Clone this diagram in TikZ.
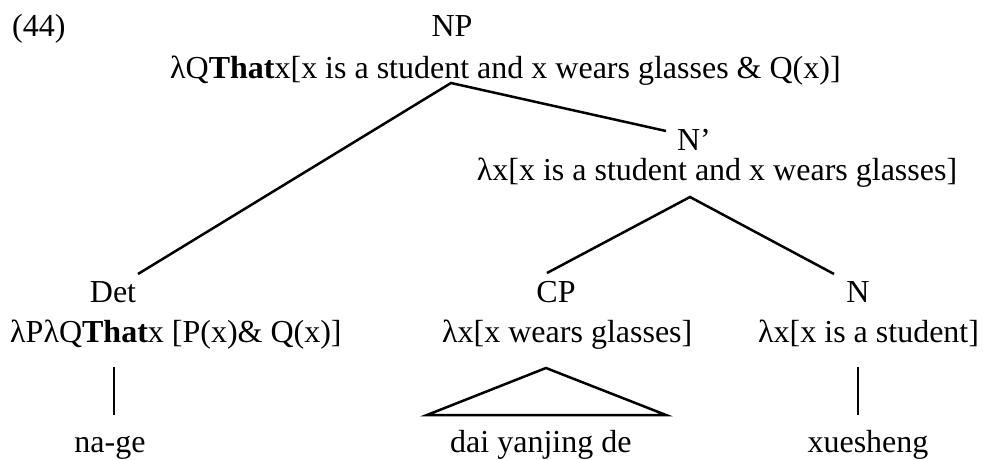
\documentclass[tikz,border=0pt]{standalone}
\usepackage{fontspec}
\setmainfont{Liberation Serif}
\begin{document}
\begin{tikzpicture}[x=1pt,y=-1pt,
  lbl/.style={inner sep=0pt,anchor=base,font=\fontsize{32}{36}\selectfont},
  branch/.style={line width=2.5pt}]
\useasboundingbox (0,0) rectangle (983,460);
% labels
\node[lbl,anchor=base west] (ex) at (12,37) {(44)};
\node[lbl] (np) at (452,37) {NP};
\node[lbl,anchor=base west] (npsem) at (170,78) {λQ\textbf{That}x[x is a student and x wears glasses \& Q(x)]};
\node[lbl] (nbar) at (694,150) {N’};
\node[lbl] (nbarsem) at (717,180) {λx[x is a student and x wears glasses]};
\node[lbl] (det) at (113,302) {Det};
\node[lbl,anchor=base west] (detsem) at (10,342) {λPλQ\textbf{That}x [P(x)\& Q(x)]};
\node[lbl] (cp) at (556,302) {CP};
\node[lbl,anchor=base west] (cpsem) at (442,342) {λx[x wears glasses]};
\node[lbl] (n) at (858,302) {N};
\node[lbl,anchor=base west] (nsem) at (758,342) {λx[x is a student]};
\node[lbl] (nage) at (110,452) {na-ge};
\node[lbl,anchor=base west] (dai) at (450,452) {dai yanjing de};
\node[lbl] (xue) at (868,452) {xuesheng};
% branch points
\coordinate (npfoot) at (451,83);
\coordinate (nbartop) at (666,131);
\coordinate (dettop) at (138,274);
\coordinate (nbarfoot) at (690,197);
\coordinate (cptop) at (547,273);
\coordinate (ntop) at (834,274);
\coordinate (detfoot) at (114,367);
\coordinate (nagetop) at (114,415);
\coordinate (cpfoot) at (546,368);
\coordinate (trileft) at (427,415);
\coordinate (triright) at (666,415);
\coordinate (nfoot) at (858,367);
\coordinate (xuetop) at (858,415);
% branches
\draw[branch] (dettop) -- (npfoot) -- (nbartop);
\draw[branch] (cptop) -- (nbarfoot) -- (ntop);
\draw[branch] (detfoot) -- (nagetop);
\draw[branch,line join=miter] (trileft) -- (cpfoot) -- (triright) -- cycle;
\draw[branch] (nfoot) -- (xuetop);
\end{tikzpicture}
\end{document}
